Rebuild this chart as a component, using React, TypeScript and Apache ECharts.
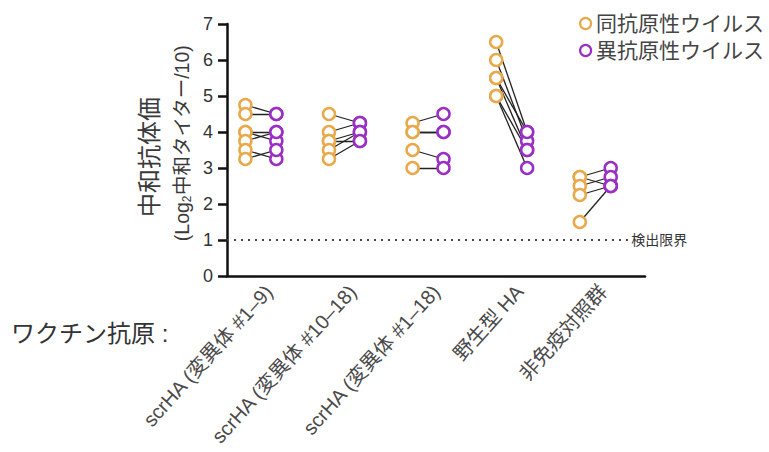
import React, { useEffect, useRef } from "react";
import * as echarts from "echarts";

const categories = [
  "scrHA (変異体 #1–9)",
  "scrHA (変異体 #10–18)",
  "scrHA (変異体 #1–18)",
  "野生型 HA",
  "非免疫対照群",
];

const seriesNames = ["同抗原性ウイルス", "異抗原性ウイルス"];

// paired values per group (same animal: homologous -> heterologous)
const homologous = [
  [4.75, 4.5, 4.0, 4.0, 3.75, 3.5, 3.25],
  [4.5, 4.0, 3.75, 3.75, 3.5, 3.25],
  [4.25, 4.0, 4.0, 3.5, 3.0],
  [6.5, 6.0, 5.5, 5.5, 5.0, 5.0],
  [2.75, 2.75, 2.5, 2.25, 1.5],
];
const heterologous = [
  [4.5, 4.5, 4.0, 3.75, 4.0, 3.25, 3.5],
  [4.25, 4.25, 4.0, 3.75, 4.0, 3.75],
  [4.5, 4.0, 4.0, 3.25, 3.0],
  [4.0, 3.75, 4.0, 3.5, 3.5, 3.0],
  [3.0, 2.5, 2.75, 2.5, 2.5],
];

const yTicks = [0, 1, 2, 3, 4, 5, 6, 7];
const detectionLimit = 1;

const ORANGE = "#E9A94B";
const PURPLE = "#9A2FC4";
const FONT = "'Liberation Sans', Arial, 'Noto Sans CJK JP', sans-serif";
const OFF_A = -0.28;
const OFF_B = 0.09;

export default function App() {
  const ref = useRef<HTMLDivElement>(null);
  useEffect(() => {
    if (!ref.current) return;
    const chart = echarts.init(ref.current, null, { renderer: "svg" });

    const homData: number[][] = [];
    const hetData: number[][] = [];
    const lineData: any[] = [];
    homologous.forEach((grp, i) => {
      grp.forEach((v, j) => {
        const w = heterologous[i][j];
        homData.push([i + 1 + OFF_A, v]);
        hetData.push([i + 1 + OFF_B, w]);
        lineData.push({ coords: [[i + 1 + OFF_A, v], [i + 1 + OFF_B, w]] });
      });
    });

    chart.setOption({
      animation: false,
      textStyle: { fontFamily: FONT },
      grid: { left: 227, top: 24, width: 418, height: 252, containLabel: false },
      legend: {
        orient: "vertical",
        left: 574,
        top: 8,
        itemWidth: 11,
        itemHeight: 11,
        itemGap: 6,
        textStyle: { fontSize: 21, color: "#444", fontFamily: FONT },
        data: [
          { name: seriesNames[0], icon: "circle", itemStyle: { color: "#fff", borderColor: ORANGE, borderWidth: 2.2 } },
          { name: seriesNames[1], icon: "circle", itemStyle: { color: "#fff", borderColor: PURPLE, borderWidth: 2.2 } },
        ],
      },
      xAxis: [
        {
          type: "category",
          data: categories,
          boundaryGap: true,
          axisLine: { lineStyle: { color: "#111", width: 2.5 } },
          axisTick: { alignWithLabel: true, length: 9, lineStyle: { color: "#111", width: 2.5 } },
          axisLabel: {
            rotate: 48,
            interval: 0,
            margin: 12,
            fontSize: 20,
            color: "#4a4a4a",
            fontFamily: FONT,
          },
        },
        {
          type: "value",
          min: 0.5,
          max: 5.5,
          show: false,
        },
      ],
      yAxis: {
        type: "value",
        min: yTicks[0],
        max: yTicks[yTicks.length - 1],
        interval: 1,
        axisLine: { show: true, lineStyle: { color: "#111", width: 2.5 } },
        axisTick: { show: true, length: 9, lineStyle: { color: "#111", width: 2.5 } },
        splitLine: { show: false },
        axisLabel: { fontSize: 18, color: "#333", margin: 14, fontFamily: FONT },
      },
      graphic: [
        {
          type: "text",
          x: 149,
          y: 157,
          rotation: Math.PI / 2,
          style: {
            text: "中和抗体価",
            fontSize: 24,
            fill: "#3a3a3a",
            fontFamily: FONT,
            align: "center",
            verticalAlign: "middle",
          },
        },
        {
          type: "text",
          x: 182,
          y: 143,
          rotation: Math.PI / 2,
          style: {
            text: "{a|(Log}{s|2}{a|中和タイター/10)}",
            fill: "#3a3a3a",
            fontFamily: FONT,
            align: "center",
            verticalAlign: "middle",
            rich: {
              a: { fontSize: 19.5, fill: "#3a3a3a", fontFamily: FONT },
              s: { fontSize: 12, fill: "#3a3a3a", fontFamily: FONT, padding: [10, 0, 0, 0] },
            },
          },
        },
        {
          type: "text",
          x: 11,
          y: 333,
          style: {
            text: "ワクチン抗原 :",
            fontSize: 24,
            fill: "#333",
            fontFamily: FONT,
            align: "left",
            verticalAlign: "middle",
          },
        },
      ],
      series: [
        {
          type: "lines",
          coordinateSystem: "cartesian2d",
          xAxisIndex: 1,
          yAxisIndex: 0,
          silent: true,
          z: 2,
          lineStyle: { color: "#222", width: 1.3, opacity: 1 },
          data: lineData,
        },
        {
          name: seriesNames[0],
          type: "scatter",
          xAxisIndex: 1,
          yAxisIndex: 0,
          symbol: "circle",
          symbolSize: 12,
          z: 3,
          itemStyle: { color: "#fff", borderColor: ORANGE, borderWidth: 2.5, opacity: 1 },
          data: homData,
          markLine: {
            silent: true,
            symbol: ["none", "none"],
            lineStyle: { color: "#444", type: [2, 5], width: 2 },
            label: {
              show: true,
              position: "end",
              formatter: "検出限界",
              fontSize: 14,
              color: "#333",
              distance: 3,
              fontFamily: FONT,
            },
            data: [[{ coord: [0.5, detectionLimit] }, { coord: [5.3, detectionLimit] }]],
          },
        },
        {
          name: seriesNames[1],
          type: "scatter",
          xAxisIndex: 1,
          yAxisIndex: 0,
          symbol: "circle",
          symbolSize: 12,
          z: 3,
          itemStyle: { color: "#fff", borderColor: PURPLE, borderWidth: 2.5, opacity: 1 },
          data: hetData,
        },
      ],
    });
    return () => chart.dispose();
  }, []);
  return (
    <div
      ref={ref}
      style={{ position: "fixed", left: 0, top: 0, width: 769, height: 452, background: "#fff" }}
    />
  );
}
